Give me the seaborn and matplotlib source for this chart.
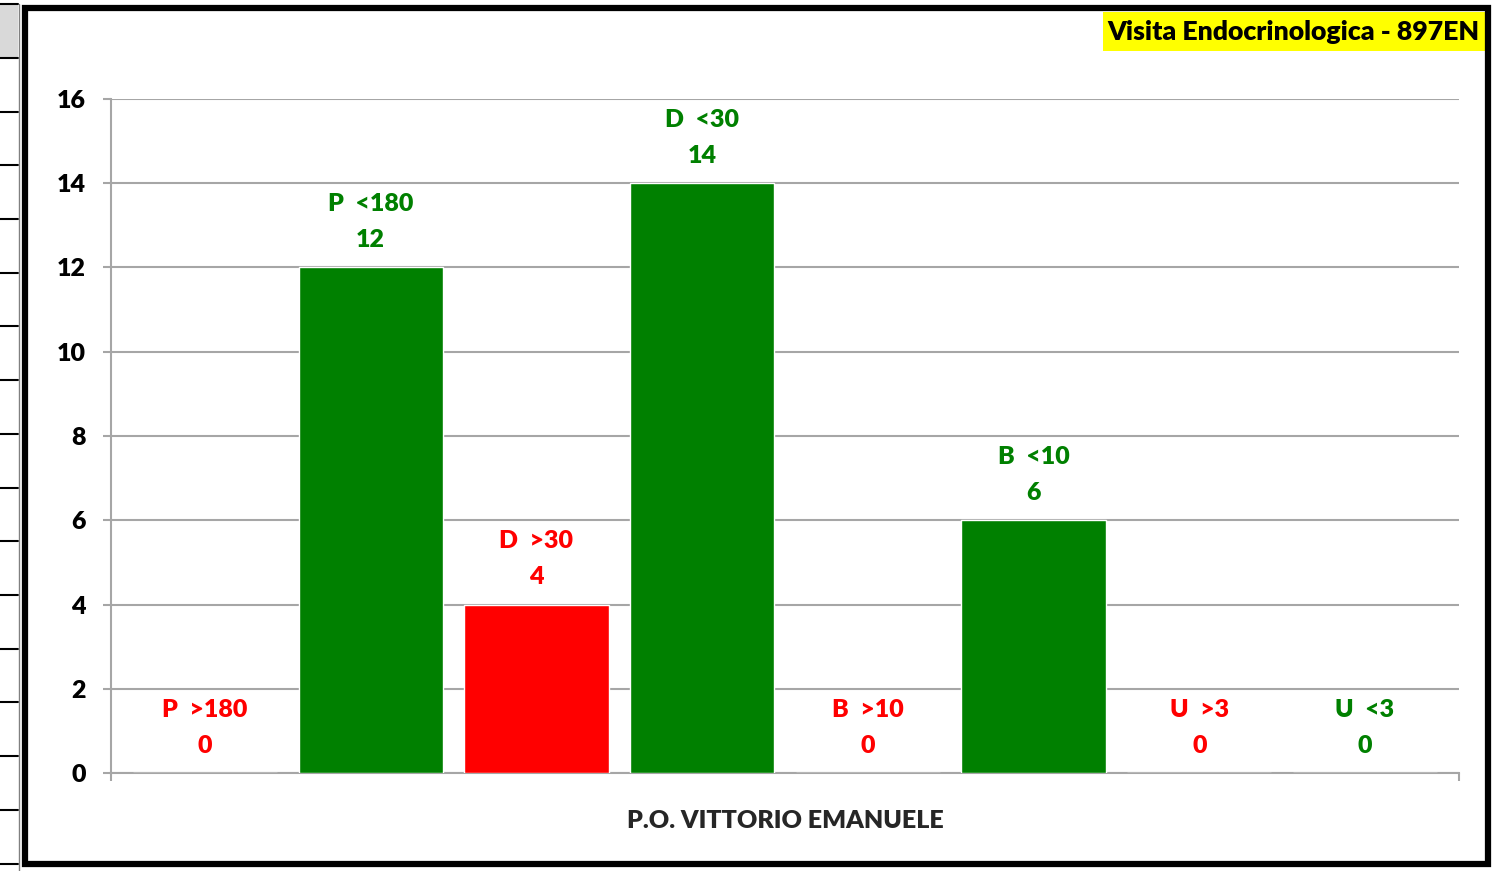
import seaborn as sns
import matplotlib.pyplot as plt
import pandas as pd
from matplotlib.patches import Rectangle
from matplotlib.lines import Line2D

# dati del grafico
categorie = ['P  >180', 'P  <180', 'D  >30', 'D  <30', 'B  >10', 'B  <10', 'U  >3', 'U  <3']
valori = [0, 12, 4, 14, 0, 6, 0, 0]
colori = ['#ff0000', '#008000', '#ff0000', '#008000', '#ff0000', '#008000', '#ff0000', '#008000']
titolo = 'Visita Endocrinologica - 897EN'
presidio = 'P.O. VITTORIO EMANUELE'
yticks = [0, 2, 4, 6, 8, 10, 12, 14, 16]

df = pd.DataFrame({'cat': categorie, 'val': valori})

sns.set_style('white')
plt.rcParams['font.family'] = ['Lato', 'DejaVu Sans']
peso = 'heavy'
fs = 18

W, H = 1509, 871
fig = plt.figure(figsize=(W / 100, H / 100), dpi=100)
ax = fig.add_axes([111 / W, 1 - 773 / H, (1459 - 111) / W, (773 - 99) / H])

sns.barplot(data=df, x='cat', y='val', hue='cat', palette=colori, legend=False,
            width=0.87, saturation=1, ax=ax, zorder=3)

grigio = '#a6a6a6'
ax.set_ylim(0, 16)
ax.set_xlim(-0.567, 7.567)
ax.set_yticks(yticks)
ax.set_yticklabels([str(v) for v in yticks], fontsize=fs, fontweight=peso, color='black')
ax.yaxis.grid(True, color=grigio, linewidth=1.5, zorder=0)
ax.set_axisbelow(True)
ax.set_xticks([-0.567, 7.567])
ax.set_xticklabels([])
ax.tick_params(axis='both', direction='out', length=6, width=1.5, color=grigio)
ax.tick_params(axis='y', pad=12, left=True)
ax.tick_params(axis='x', bottom=True)
for s in ['top', 'right']:
    ax.spines[s].set_visible(False)
for s in ['left', 'bottom']:
    ax.spines[s].set_color(grigio)
    ax.spines[s].set_linewidth(1.5)
ax.set_xlabel(presidio, fontsize=fs, fontweight=peso, labelpad=17)
ax.set_ylabel('')

# etichette sopra le barre
for i, (c, v) in enumerate(zip(categorie, valori)):
    ax.annotate(str(v), (i, v), xytext=(0, 19.5), textcoords='offset points',
                ha='center', va='center', fontsize=fs, fontweight=peso, color=colori[i])
    ax.annotate(c, (i, v), xytext=(0, 45.5), textcoords='offset points',
                ha='center', va='center', fontsize=fs, fontweight=peso, color=colori[i])

# cornice e titolo
fig.patches.append(Rectangle((1103 / W, 1 - 51 / H), (1485 - 1103) / W, 39 / H,
                             transform=fig.transFigure, facecolor='#ffff00', edgecolor='none', zorder=1))
fig.text(1479 / W, 1 - 32 / H, titolo, ha='right', va='center', fontsize=19.2,
         fontweight=peso, color='black')
fig.patches.append(Rectangle((24.5 / W, 1 - 864 / H), (1488 - 24.5) / W, (864 - 8) / H,
                             transform=fig.transFigure, facecolor='none', edgecolor='black',
                             linewidth=4.5, zorder=5))

# striscia del foglio a sinistra
fig.patches.append(Rectangle((0, 1 - 58 / H), 18 / W, 54 / H, transform=fig.transFigure,
                             facecolor='#d9d9d9', edgecolor='none', zorder=1))
for yy in [4] + [58 + 53.7 * k for k in range(16)]:
    fig.lines.append(Line2D([0, 18 / W], [1 - yy / H, 1 - yy / H], transform=fig.transFigure,
                            color='black', linewidth=1.5))
fig.lines.append(Line2D([18.5 / W, 18.5 / W], [0, 1 - 4 / H], transform=fig.transFigure,
                        color='#808080', linewidth=1))

fig.savefig('out.png', dpi=100)
